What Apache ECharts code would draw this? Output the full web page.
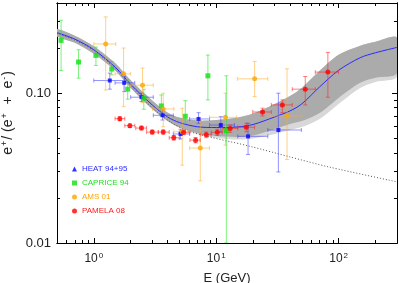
<!DOCTYPE html>
<html><head><meta charset="utf-8">
<script src="https://cdn.jsdelivr.net/npm/echarts@6/dist/echarts.min.js"></script>
<style>html,body{margin:0;padding:0;background:#fff}#c{width:399px;height:283px}</style>
</head><body><div id="c"></div>
<script>
// ---- axis ticks ----
const xMajor = [1, 10, 100];
const xMajorExp = ['0', '1', '2'];
const xMinor = [0.6,0.7,0.8,0.9,2,3,4,5,6,7,8,9,20,30,40,50,60,70,80,90,200];
const yMajor = [0.01, 0.1];
const yMajorLabels = ['0.01', '0.10'];
const yMinor = [0.02,0.03,0.04,0.05,0.06,0.07,0.08,0.09,0.2,0.3];

// ---- model band (grey curves), central model (blue), secondary only (dotted) ----
const bandE   = [0.5,0.7,1,1.5,2,3,4,5,7,10,15,20,30,40,50,70,100,150,200,300];
const bandHi  = [0.2677,0.2421,0.2059,0.1584,0.1218,0.0895,0.0744,0.0688,0.0657,0.0662,0.0688,0.0732,0.0848,0.0959,0.1085,0.1411,0.1806,0.2075,0.2207,0.2348];
const bandLo  = [0.2403,0.2174,0.1834,0.1411,0.1085,0.0785,0.0652,0.0590,0.0542,0.0517,0.0510,0.0521,0.0576,0.0623,0.0652,0.0738,0.0930,0.1172,0.1266,0.1358];
const bandLoLight = [0.2403,0.2174,0.1834,0.1411,0.1085,0.0785,0.0652,0.0590,0.0534,0.0502,0.0490,0.0498,0.0534,0.0568,0.0594,0.0673,0.0848,0.1085,0.1190,0.1286];
const modelF  = [0.2536,0.2294,0.1951,0.1489,0.1146,0.0835,0.0694,0.0637,0.0597,0.0590,0.0595,0.0618,0.0694,0.0761,0.0848,0.1102,0.1422,0.1725,0.1862,0.2021];
const secE = [0.5,0.7,1,1.5,2,3,4.2,6.1,18.7,39.8,84.4,300];
const secF = [0.250,0.226,0.192,0.146,0.112,0.080,0.0645,0.0553,0.0443,0.0376,0.0321,0.0256];

// ---- HEAT 94+95 ----
const heatE   = [1.35,1.77,2.45,3.64,5.11,7.17,10.9,18.2,32.2];
const heatF   = [0.1215,0.1172,0.0940,0.0712,0.0534,0.0673,0.0613,0.0515,0.0568];
const heatElo = [1.0,1.49,2.0,3.06,4.46,6.06,8.82,15.0,26.4];
const heatEhi = [1.79,2.16,3.06,4.46,6.06,8.82,14.1,26.4,49.6];
const heatFlo = [0.1064,0.1025,0.0880,0.0662,0.0495,0.0630,0.0553,0.0390,0.0298];
const heatFhi = [0.1361,0.1290,0.1000,0.0773,0.0575,0.0741,0.0697,0.0630,0.1000];

// ---- CAPRICE 94 ----
const capE   = [0.54,0.75,1.04,1.40,1.89,2.56,3.56,5.59,8.55,12.1];
const capF   = [0.2252,0.1614,0.1786,0.1448,0.1064,0.0926,0.0822,0.0701,0.1306,0.0562];
const capFlo = [0.1418,0.1260,0.1531,0.1326,0.0912,0.0781,0.0705,0.0630,0.0902,0.0100];
const capFhi = [0.3067,0.1951,0.2033,0.1629,0.1228,0.1064,0.0974,0.0892,0.1798,0.1306];

// ---- AMS 01 ----
const amsE   = [1.25,1.75,2.50,3.69,5.28,7.41,11.9,20.6,37.9];
const amsF   = [0.2130,0.1347,0.1131,0.0785,0.0553,0.0430,0.0690,0.1247,0.0705];
const amsElo = [1.0,1.49,2.0,3.02,4.5,6.06,8.82,14.9,26.4];
const amsEhi = [1.51,2.0,3.06,4.51,6.0,8.82,14.6,26.4,50];
const amsFlo = [0.105,0.0813,0.0865,0.0597,0.0331,0.0260,0.045,0.0949,0.0361];
const amsFhi = [0.3231,0.2002,0.1471,0.1000,0.0794,0.0662,0.1000,0.1629,0.1455];

// ---- PAMELA 08 ----
const pamE   = [1.63,1.97,2.45,3.00,3.69,4.50,5.41,6.78,8.29,10.2,13.0,17.6,23.9,34.7,53.4,81.7];
const pamF   = [0.0676,0.0607,0.0585,0.0550,0.0550,0.0504,0.0548,0.0486,0.0528,0.0548,0.0582,0.0592,0.0749,0.0835,0.1064,0.1383];
const pamElo = [1.49,1.79,2.20,2.70,3.36,4.13,5.00,6.10,7.40,9.10,11.3,15.0,19.9,28.2,41.8,64.5];
const pamEhi = [1.79,2.16,2.70,3.36,4.13,5.00,6.10,7.40,9.10,11.2,15.0,20.6,28.2,41.8,64.5,100];
const pamFlo = [0.0655,0.0590,0.0568,0.0533,0.0532,0.0486,0.0528,0.0466,0.0505,0.0522,0.0548,0.0553,0.0705,0.0741,0.0835,0.0940];
const pamFhi = [0.0697,0.0624,0.0602,0.0567,0.0568,0.0522,0.0568,0.0506,0.0551,0.0574,0.0613,0.0630,0.0794,0.0902,0.1292,0.1871];

const FONT = 'Liberation Sans';
const chart = echarts.init(document.getElementById('c'), null, {renderer: 'canvas'});

function xAxisDef(pos, major, withLabel) {
  return {
    type: 'log', logBase: 10, min: 0.5, max: 300, position: pos,
    splitLine: {show: false},
    axisLine: {show: true, onZero: false, lineStyle: {color: '#000', width: 1}},
    axisTick: {show: true, inside: true, length: major ? 5 : 3, customValues: major ? xMajor : xMinor, lineStyle: {color: '#000', width: 1}},
    axisLabel: withLabel ? {
      show: true, customValues: xMajor, margin: 9, color: '#222', fontFamily: FONT,
      formatter: v => { const i = xMajor.findIndex(m => Math.abs(m - v) / m < 1e-6); return '{b|10}{s|' + xMajorExp[i] + '}'; },
      rich: {b: {fontSize: 12, fontFamily: FONT, color: '#222'}, s: {fontSize: 8, fontFamily: FONT, color: '#222', verticalAlign: 'top', padding: [0, 0, 6, 1]}}
    } : {show: false},
    name: withLabel ? 'E (GeV)' : '', nameLocation: 'middle', nameGap: 29,
    nameTextStyle: {fontSize: 13, fontFamily: FONT, color: '#222'}
  };
}
function yAxisDef(pos, major, withLabel) {
  return {
    type: 'log', logBase: 10, min: 0.01, max: 0.4, position: pos,
    splitLine: {show: false},
    axisLine: {show: true, onZero: false, lineStyle: {color: '#000', width: 1}},
    axisTick: {show: true, inside: true, length: major ? 5 : 3, customValues: major ? yMajor : yMinor, lineStyle: {color: '#000', width: 1}},
    axisLabel: withLabel ? {
      show: true, customValues: yMajor, margin: 6, color: '#222', fontSize: 13, fontFamily: FONT,
      formatter: v => { const i = yMajor.findIndex(m => Math.abs(m - v) / m < 1e-6); return yMajorLabels[i]; }
    } : {show: false},
    name: withLabel ? '{e|e}{s|+}{e|/ (e}{s|+}{e|  +  e}{s|-}{e|)}' : '',
    nameLocation: 'middle', nameRotate: 90, nameGap: 40,
    nameTextStyle: {fontFamily: FONT, color: '#222', padding: [0, 0, 0, 20], rich: {
      e: {fontSize: 14, fontFamily: FONT, color: '#222'},
      s: {fontSize: 9, fontFamily: FONT, color: '#222', verticalAlign: 'top', padding: [0, 1, 6, 1]}
    }}
  };
}

function errorBars(name, color, E, F, Elo, Ehi, Flo, Fhi) {
  const data = E.map((e, i) => [e, F[i], Elo ? Elo[i] : e, Ehi ? Ehi[i] : e, Flo[i], Fhi[i]]);
  return {
    type: 'custom', name: name + ' err', clip: true, z: 3, silent: true,
    xAxisIndex: 0, yAxisIndex: 0,
    dimensions: ['x', 'y', 'xl', 'xh', 'yl', 'yh'],
    encode: {x: 0, y: 1},
    data: data,
    renderItem: function (params, api) {
      const p = api.coord([api.value(0), api.value(1)]);
      const pxl = api.coord([api.value(2), api.value(1)]);
      const pxh = api.coord([api.value(3), api.value(1)]);
      const pyl = api.coord([api.value(0), api.value(4)]);
      const pyh = api.coord([api.value(0), api.value(5)]);
      const cap = 2;
      const st = {stroke: color, lineWidth: 1};
      const kids = [];
      const seg = (x1, y1, x2, y2) => kids.push({type: 'line', shape: {x1, y1, x2, y2}, style: st});
      if (pxh[0] - pxl[0] > 0.5) {
        seg(pxl[0], p[1], pxh[0], p[1]);
        seg(pxl[0], p[1] - cap, pxl[0], p[1] + cap);
        seg(pxh[0], p[1] - cap, pxh[0], p[1] + cap);
      }
      seg(p[0], pyl[1], p[0], pyh[1]);
      seg(p[0] - cap, pyl[1], p[0] + cap, pyl[1]);
      seg(p[0] - cap, pyh[1], p[0] + cap, pyh[1]);
      return {type: 'group', children: kids};
    }
  };
}

function bandSeries() {
  return {
    type: 'custom', name: 'band', silent: true, z: 1, clip: true,
    xAxisIndex: 0, yAxisIndex: 0,
    data: [[bandE[0], bandHi[0]]],
    renderItem: function (params, api) {
      const top = bandE.map((e, i) => api.coord([e, bandHi[i]]));
      const botL = bandE.map((e, i) => api.coord([e, bandLoLight[i]])).reverse();
      const bot = bandE.map((e, i) => api.coord([e, bandLo[i]])).reverse();
      return {type: 'group', children: [
        {type: 'polygon', shape: {points: top.concat(botL), smooth: 0.3}, style: {fill: '#d8d8d8'}},
        {type: 'polygon', shape: {points: top.concat(bot), smooth: 0.3}, style: {fill: '#ababab'}}
      ]};
    }
  };
}

const zip = (a, b) => a.map((v, i) => [v, b[i]]);

const option = {
  animation: false,
  backgroundColor: '#fff',
  grid: {left: 57, right: 2, top: 3, bottom: 40, containLabel: false, outerBoundsMode: 'none'},
  xAxis: [xAxisDef('bottom', true, true), xAxisDef('bottom', false, false), xAxisDef('top', true, false), xAxisDef('top', false, false)],
  yAxis: [yAxisDef('left', true, true), yAxisDef('left', false, false), yAxisDef('right', true, false), yAxisDef('right', false, false)],
  legend: {
    orient: 'vertical', left: 72, top: 164, itemGap: 4, itemWidth: 5, itemHeight: 5, padding: 0,
    selectedMode: false,
    textStyle: {fontSize: 8, fontFamily: FONT, lineHeight: 10},
    data: [
      {name: 'HEAT 94+95', icon: 'triangle', textStyle: {color: '#2b2bff'}},
      {name: 'CAPRICE 94', icon: 'rect', textStyle: {color: '#1fe01f'}},
      {name: 'AMS 01', icon: 'circle', textStyle: {color: '#ffa200'}},
      {name: 'PAMELA 08', icon: 'circle', textStyle: {color: '#ff1a1a'}}
    ]
  },
  series: [
    bandSeries(),
    {type: 'line', name: 'secondary', data: zip(secE, secF), showSymbol: false, symbol: 'none', smooth: 0.3, z: 2,
     lineStyle: {color: '#555', width: 1, type: [1, 2]}, silent: true},
    {type: 'line', name: 'model', data: zip(bandE, modelF), showSymbol: false, symbol: 'none', smooth: 0.3, z: 2,
     lineStyle: {color: '#2a2aff', width: 1}, silent: true},
    errorBars('HEAT 94+95', 'rgba(60,60,255,0.55)', heatE, heatF, heatElo, heatEhi, heatFlo, heatFhi),
    errorBars('CAPRICE 94', 'rgba(40,230,40,0.6)', capE, capF, null, null, capFlo, capFhi),
    errorBars('AMS 01', 'rgba(255,170,40,0.55)', amsE, amsF, amsElo, amsEhi, amsFlo, amsFhi),
    errorBars('PAMELA 08', 'rgba(255,40,40,0.6)', pamE, pamF, pamElo, pamEhi, pamFlo, pamFhi),
    {type: 'scatter', name: 'HEAT 94+95', data: zip(heatE, heatF), symbol: 'rect', symbolSize: 4, z: 5, itemStyle: {color: '#0000ff'}},
    {type: 'scatter', name: 'CAPRICE 94', data: zip(capE, capF), symbol: 'rect', symbolSize: 5, z: 5, itemStyle: {color: '#10e010'}},
    {type: 'scatter', name: 'AMS 01', data: zip(amsE, amsF), symbol: 'circle', symbolSize: 5, z: 5, itemStyle: {color: '#ffa500'}},
    {type: 'scatter', name: 'PAMELA 08', data: zip(pamE, pamF), symbol: 'circle', symbolSize: 5, z: 5, itemStyle: {color: '#ff0000'}}
  ]
};
chart.setOption(option);
</script></body></html>
